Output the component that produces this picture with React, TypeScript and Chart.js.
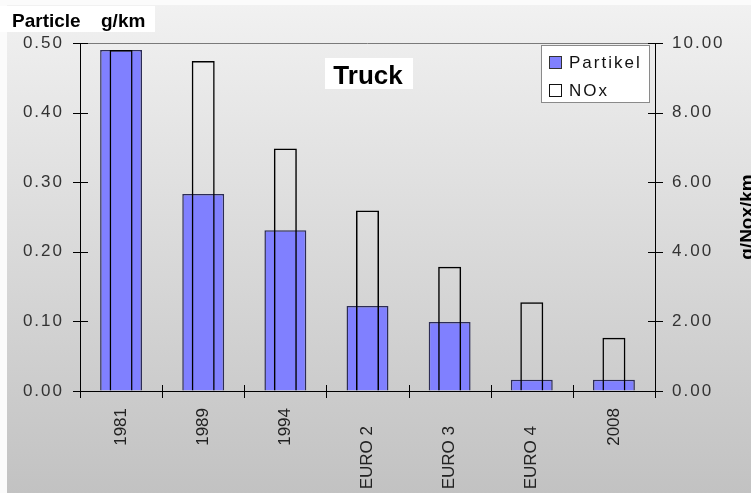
import React, { useEffect, useRef } from 'react';
import { Chart, registerables } from 'chart.js';

Chart.register(...registerables);

const categories = ['1981', '1989', '1994', 'EURO 2', 'EURO 3', 'EURO 4', '2008'];
const partikel = [0.49, 0.283, 0.231, 0.122, 0.099, 0.016, 0.016];
const nox = [9.8, 9.48, 6.97, 5.19, 3.57, 2.55, 1.53];
const seriesNames = ['Partikel', 'NOx'];
const chartTitle = 'Truck';
const leftTitle = ['Particle', 'g/km'];
const rightTitle = 'g/Nox/km';

const W = 751;
const H = 493;
const FONT = '"Liberation Sans", Arial, Helvetica, sans-serif';
const BLUE = '#8080ff';

const deco = {
  id: 'deco',
  beforeDraw(chart: any) {
    const ctx = chart.ctx;
    ctx.save();
    ctx.fillStyle = '#fbfbfb';
    ctx.fillRect(0, 0, W, H);
    const g = ctx.createLinearGradient(0, 5, 0, H);
    g.addColorStop(0, '#f1f1f1');
    g.addColorStop(1, '#c2c2c2');
    ctx.fillStyle = g;
    ctx.fillRect(7, 5, W - 7, H - 5);
    const a = chart.chartArea;
    ctx.strokeStyle = '#7a7a7a';
    ctx.lineWidth = 1;
    ctx.beginPath();
    ctx.moveTo(a.left, a.top + 0.5);
    ctx.lineTo(a.right, a.top + 0.5);
    ctx.stroke();
    ctx.restore();
    ctx.letterSpacing = '2px';
  },
  afterDraw(chart: any) {
    const ctx = chart.ctx;
    const a = chart.chartArea;
    const xs = chart.scales.x;
    const ys = chart.scales.y;
    const y1 = chart.scales.y1;
    ctx.save();
    ctx.letterSpacing = '0px';
    ctx.strokeStyle = '#000';
    ctx.lineWidth = 1;
    ctx.beginPath();
    // axis lines
    ctx.moveTo(a.left + 0.5, a.top);
    ctx.lineTo(a.left + 0.5, a.bottom + 7);
    ctx.moveTo(a.right + 0.5, a.top);
    ctx.lineTo(a.right + 0.5, a.bottom + 7);
    ctx.moveTo(a.left - 7, a.bottom + 0.5);
    ctx.lineTo(a.right + 8, a.bottom + 0.5);
    // y ticks (cross)
    ys.ticks.forEach((t: any) => {
      const p = Math.round(ys.getPixelForValue(t.value)) + 0.5;
      ctx.moveTo(a.left - 7, p);
      ctx.lineTo(a.left + 8, p);
    });
    y1.ticks.forEach((t: any) => {
      const p = Math.round(y1.getPixelForValue(t.value)) + 0.5;
      ctx.moveTo(a.right - 7, p);
      ctx.lineTo(a.right + 8, p);
    });
    for (let i = 0; i <= categories.length; i++) {
      const p = Math.round(xs.getPixelForValue(i - 0.5)) + 0.5;
      ctx.moveTo(p, a.bottom - 6);
      ctx.lineTo(p, a.bottom + 7);
    }
    ctx.stroke();

    // x labels
    ctx.fillStyle = '#222';
    ctx.font = `17px ${FONT}`;
    ctx.textAlign = 'right';
    ctx.textBaseline = 'middle';
    categories.forEach((c, i) => {
      const x = xs.getPixelForValue(i);
      const off = /^EURO/.test(c) ? 35 : 17;
      ctx.save();
      ctx.translate(x, a.bottom + off);
      ctx.rotate(-Math.PI / 2);
      ctx.fillText(c, 0, 0);
      ctx.restore();
    });

    // legend
    ctx.fillStyle = '#fff';
    ctx.fillRect(541, 45, 108, 57);
    ctx.strokeStyle = '#8a8a8a';
    ctx.strokeRect(541.5, 45.5, 108, 57);
    const ds = chart.data.datasets;
    ctx.textAlign = 'left';
    ctx.textBaseline = 'alphabetic';
    ctx.font = `17px ${FONT}`;
    ctx.letterSpacing = '2px';
    ds.forEach((d: any, i: number) => {
      const yTop = 56 + i * 28;
      ctx.fillStyle = d.backgroundColor === 'rgba(0,0,0,0)' ? '#fff' : d.backgroundColor;
      ctx.fillRect(549, yTop, 12, 12);
      ctx.strokeStyle = i === 0 ? '#333' : '#111';
      ctx.strokeRect(549.5, yTop + 0.5, 12, 12);
      ctx.fillStyle = '#111';
      ctx.fillText(d.label, 569, yTop + 12);
    });
    ctx.letterSpacing = '0px';

    // Truck title
    ctx.fillStyle = '#fff';
    ctx.fillRect(325, 58, 88, 31);
    ctx.fillStyle = '#000';
    ctx.font = `bold 26px ${FONT}`;
    ctx.textAlign = 'center';
    ctx.fillText(chartTitle, 368, 84);

    // left title
    ctx.fillStyle = '#fff';
    ctx.fillRect(0, 6, 155, 26);
    ctx.fillStyle = '#000';
    ctx.font = `bold 19px ${FONT}`;
    ctx.textAlign = 'left';
    ctx.fillText(leftTitle[0], 12, 27);
    ctx.fillText(leftTitle[1], 101, 27);

    // right title
    ctx.save();
    ctx.translate(753, 217);
    ctx.rotate(-Math.PI / 2);
    ctx.textAlign = 'center';
    ctx.font = `bold 19px ${FONT}`;
    ctx.fillText(rightTitle, 0, 0);
    ctx.restore();

    ctx.restore();
  },
};

export default function App() {
  const ref = useRef<HTMLCanvasElement>(null);
  useEffect(() => {
    if (!ref.current) return;
    const tickFont = { family: FONT, size: 17 };
    const chart = new Chart(ref.current, {
      type: 'bar',
      data: {
        labels: categories,
        datasets: [
          {
            label: seriesNames[0],
            data: partikel,
            yAxisID: 'y',
            backgroundColor: BLUE,
            borderColor: '#2c2c55',
            borderWidth: 1.5,
            barPercentage: 0.51,
            categoryPercentage: 1,
            grouped: false,
            order: 2,
          },
          {
            label: seriesNames[1],
            data: nox,
            yAxisID: 'y1',
            backgroundColor: 'rgba(0,0,0,0)',
            borderColor: '#000',
            borderWidth: 1.5,
            barPercentage: 0.28,
            categoryPercentage: 1,
            grouped: false,
            order: 1,
          },
        ],
      },
      options: {
        responsive: false,
        animation: false,
        devicePixelRatio: 1,
        layout: { padding: { top: 43, left: 0, right: 0, bottom: 0 } },
        plugins: {
          legend: { display: false },
          tooltip: { enabled: false },
          title: { display: false },
        },
        scales: {
          x: {
            type: 'category',
            ticks: { display: false },
            grid: { display: false },
            border: { display: false },
            afterFit: (s: any) => {
              s.height = 102;
            },
          },
          y: {
            position: 'left',
            min: 0,
            max: 0.5,
            ticks: {
              stepSize: 0.1,
              font: tickFont,
              color: '#333',
              padding: 9,
              callback: (v: any) => Number(v).toFixed(2),
            },
            grid: { display: true, drawOnChartArea: false, drawTicks: true, tickLength: 7, color: 'rgba(0,0,0,0)' },
            border: { display: false },
            afterFit: (s: any) => {
              s.width = 80;
            },
          },
          y1: {
            position: 'right',
            min: 0,
            max: 10,
            ticks: {
              stepSize: 2,
              font: tickFont,
              color: '#333',
              padding: 10,
              callback: (v: any) => Number(v).toFixed(2),
            },
            grid: { display: true, drawOnChartArea: false, drawTicks: true, tickLength: 7, color: 'rgba(0,0,0,0)' },
            border: { display: false },
            afterFit: (s: any) => {
              s.width = 96;
            },
          },
        },
      },
      plugins: [deco],
    });
    return () => chart.destroy();
  }, []);
  return (
    <div style={{ position: 'fixed', left: 0, top: 0, width: W, height: H }}>
      <canvas ref={ref} width={W} height={H} style={{ display: 'block' }} />
    </div>
  );
}
